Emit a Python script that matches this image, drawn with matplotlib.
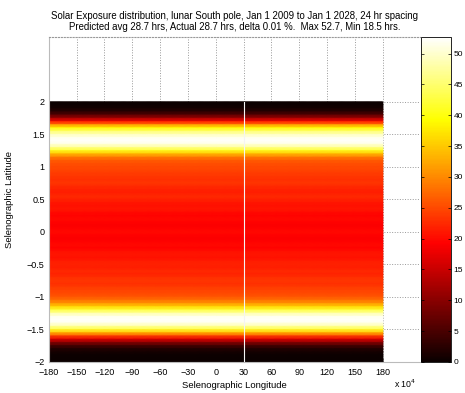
import numpy as np
import matplotlib.pyplot as plt

plt.rcParams['font.family'] = ['Liberation Sans', 'DejaVu Sans']

# latitude samples (deg, north to south) and exposure hours
lat = np.round(np.arange(2.0, -2.0001, -0.05), 2)
exposure = [0, 0.3, 1, 2.5, 6, 12, 20, 30, 39, 45,
            49, 51.5, 52.5, 51, 47, 41, 34, 29, 26.5, 25.5,
            25, 24.5, 24, 23.5, 23, 23.5, 22.5, 22, 21.5, 22.5,
            22, 21, 20.5, 21, 20, 19.5, 20, 19.5, 19, 19.5,
            20,
            19.5, 19, 19.5, 20, 19.5, 20.5, 21, 20.5, 21.5, 22,
            21.5, 22.5, 22, 23, 23.5, 23, 24, 24.5, 25, 26,
            28, 31, 36, 42, 48, 51.5, 52.5, 51.5, 48, 42,
            34, 25, 17, 10, 5, 2, 1, 0.4, 0.1, 0]

lon = np.arange(-180, 181, 1)
gap_lon = 30  # missing longitude column shows as a white line

exp_grid = np.tile(np.array(exposure)[:, None], (1, len(lon)))

fig = plt.figure(figsize=(4.65, 3.93), dpi=100)
ax = fig.add_axes([0.105, 0.079, 0.798, 0.827])
cax = fig.add_axes([0.906, 0.079, 0.064, 0.827])

ax.grid(True, linestyle=':', color='#999999', linewidth=0.7)
ax.set_axisbelow(True)
mesh = ax.pcolormesh(lon, lat, exp_grid, cmap='hot', vmin=0, vmax=52.7,
                     shading='gouraud', zorder=2)
ax.axvline(gap_lon, ymin=0, ymax=0.8, color='#f4f4f4', linewidth=0.8, zorder=3)

ax.set_xlim(-180, 220)
ax.set_ylim(-2, 3)
ax.set_xticks(np.arange(-180, 181, 30))
ax.set_yticks(np.arange(-2, 2.01, 0.5))
ax.set_yticklabels(['\u22122', '\u22121.5', '\u22121', '\u22120.5', '0', '0.5', '1', '1.5', '2'])
ax.set_xticklabels(['\u2212180', '\u2212150', '\u2212120', '\u221290', '\u221260', '\u221230',
                    '0', '30', '60', '90', '120', '150', '180'])
ax.tick_params(direction='in', labelsize=6.5, length=3, width=0.5, color='#666666')
ax.tick_params(axis='x', pad=4)
ax.tick_params(axis='y', pad=3)
ax.spines['right'].set_visible(False)
ax.spines['top'].set_linestyle(':')
ax.spines['top'].set_color('#999999')
ax.spines['left'].set_color('#bbbbbb')
ax.spines['bottom'].set_color('#bbbbbb')

ax.set_xlabel('Selenographic Longitude', fontsize=6.8, labelpad=3)
ax.set_ylabel('Selenographic Latitude', fontsize=6.8, labelpad=9)
ax.set_title('Solar Exposure distribution, lunar South pole, Jan 1 2009 to Jan 1 2028, 24 hr spacing\n'
             'Predicted avg 28.7 hrs, Actual 28.7 hrs, delta 0.01 %.  Max 52.7, Min 18.5 hrs.',
             fontsize=6.9, pad=5, linespacing=1.15, x=0.5)
fig.text(0.848, 0.012, 'x 10$^4$', fontsize=6.3)

cb = fig.colorbar(mesh, cax=cax)
cb.set_ticks(np.arange(0, 51, 5))
cb.ax.tick_params(direction='in', labelsize=6, length=2, width=0.5, left=True, pad=2)
cb.outline.set_linewidth(0.6)

plt.savefig('out.png', dpi=100)
